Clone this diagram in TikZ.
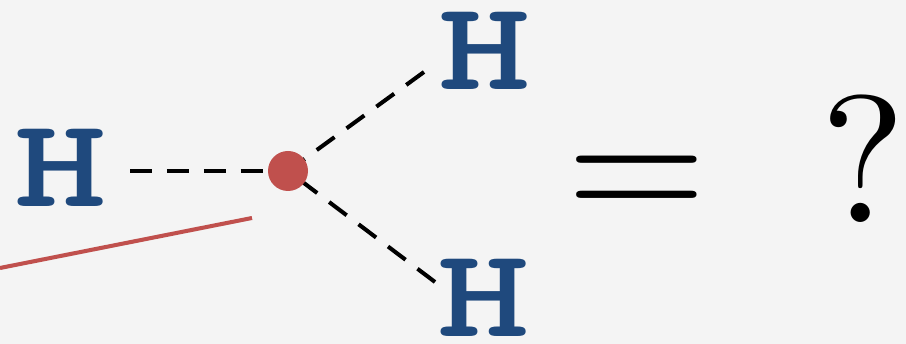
\documentclass[tikz,border=0pt]{standalone}
\usepackage{graphicx}
\usepackage{tikz}
\usetikzlibrary{positioning}
\definecolor{atomB}{RGB}{31,73,125}
\definecolor{bondR}{RGB}{192,80,77}
\definecolor{paper}{RGB}{244,244,244}

\begin{document}
\begin{tikzpicture}[
  atom/.style={text=atomB, inner sep=0pt,
    font=\fontsize{72}{72}\selectfont\ttfamily\bfseries},
  bond/.style={draw=black, line width=2.3pt, dash pattern=on 12.5pt off 8.5pt},
  big/.style={anchor=base, inner sep=0pt}]
  % background sheet
  \fill[paper] (0,0) rectangle (18.12,6.88);
  \useasboundingbox (0,0) rectangle (18.12,6.88);
  % the three atoms
  \node[atom] (hLeft) at (1.22,3.52) {\scalebox{1.39}[1]{H}};
  \node[atom] (hTop) at (9.70,5.86) {\scalebox{1.39}[1]{H}};
  \node[atom] (hBottom) at (9.68,0.92) {\scalebox{1.39}[1]{H}};
  \coordinate (tipLeft) at (2.60,3.46);
  \coordinate (tipTop) at (8.48,5.44);
  \coordinate (tipBottom) at (8.70,1.24);
  \coordinate (dotC) at (5.76,3.46);
  \draw[bond] (tipLeft) -- (dotC);
  \draw[bond] (tipTop) -- (dotC);
  \draw[bond] (tipBottom) -- (dotC);
  \node[circle, fill=bondR, minimum size=0.8cm, inner sep=0pt] (dot) at (dotC) {};
  % red pointer
  \coordinate (redA) at (0,1.52);
  \coordinate (redB) at (5.04,2.52);
  \draw[bondR, line width=2.3pt] (redA) -- (redB);
  % equals and question
  \node[big] (eq) at (12.74,2.42) {\scalebox{10.3}{=}};
  \node[big] (qm) at (17.26,2.42) {\scalebox{10.3}{?}};
\end{tikzpicture}
\end{document}
